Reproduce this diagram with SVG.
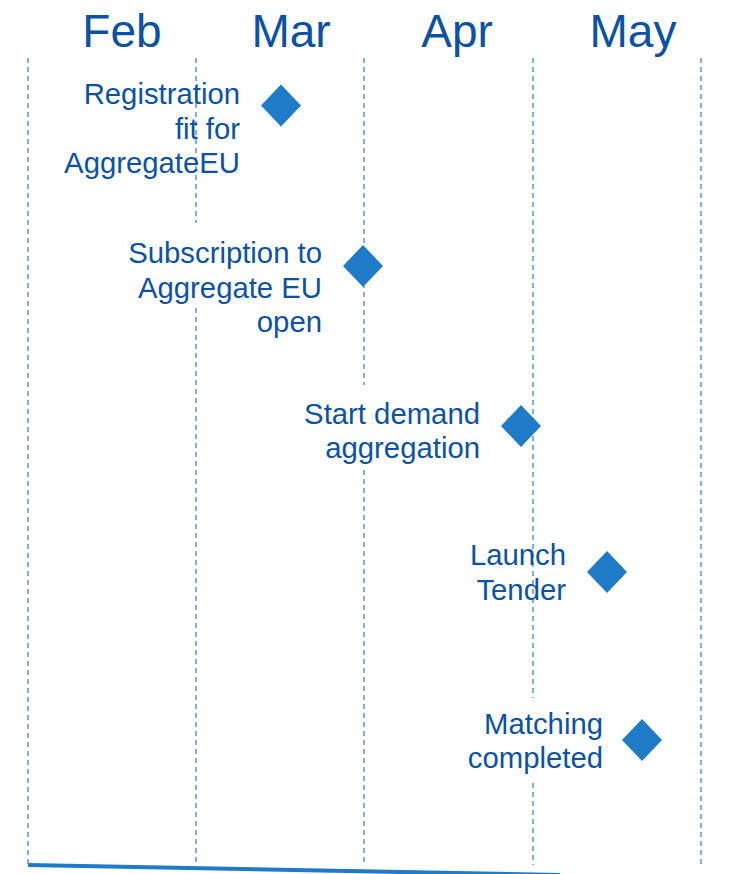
<svg xmlns="http://www.w3.org/2000/svg" width="735" height="874" viewBox="0 0 735 874">
<style>
.grid{stroke:#4a90d6;stroke-width:1.4;stroke-dasharray:5 4;fill:none}
.month{font-family:"Liberation Sans",Arial,sans-serif;font-size:46px;fill:#0b52a5;text-anchor:middle}
.lbl{font-family:"Liberation Sans",Arial,sans-serif;font-size:29.3px;fill:#0b52a5;text-anchor:end}
.dia{fill:#1f7bc8}
</style>
<rect width="735" height="874" fill="#ffffff"/>
<g id="grid" class="grid">
<line x1="28" y1="58" x2="28" y2="865"/>
<line x1="196" y1="58" x2="196" y2="223"/>
<line x1="196" y1="308" x2="196" y2="865"/>
<line x1="364" y1="58" x2="364" y2="385"/>
<line x1="364" y1="470" x2="364" y2="865"/>
<line x1="533" y1="58" x2="533" y2="698"/>
<line x1="533" y1="783" x2="533" y2="865"/>
<line x1="701" y1="58" x2="701" y2="865"/>
</g>
<g id="months">
<text class="month" x="122" y="47">Feb</text>
<text class="month" x="291" y="47">Mar</text>
<text class="month" x="457" y="47">Apr</text>
<text class="month" x="633" y="47">May</text>
</g>
<g id="connectors">
<line x1="28" y1="865" x2="560" y2="875" stroke="#1f7bc8" stroke-width="4"/>
</g>
<g id="m1">
<polygon class="dia" points="281,84.5 301,105.5 281,126.5 261,105.5"/>
<text class="lbl" x="240" y="104">Registration</text>
<text class="lbl" x="240" y="138.5">fit for</text>
<text class="lbl" x="240" y="173">AggregateEU</text>
</g>
<g id="m2">
<polygon class="dia" points="363,245 383,266 363,287 343,266"/>
<text class="lbl" x="322" y="263">Subscription to</text>
<text class="lbl" x="322" y="298">Aggregate EU</text>
<text class="lbl" x="322" y="332">open</text>
</g>
<g id="m3">
<polygon class="dia" points="521,405 541,426 521,447 501,426"/>
<text class="lbl" x="480" y="424">Start demand</text>
<text class="lbl" x="480" y="458">aggregation</text>
</g>
<g id="m4">
<polygon class="dia" points="607,551 627,572 607,593 587,572"/>
<text class="lbl" x="566" y="565">Launch</text>
<text class="lbl" x="566" y="600">Tender</text>
</g>
<g id="m5">
<polygon class="dia" points="642,719 662,740 642,761 622,740"/>
<text class="lbl" x="603" y="734">Matching</text>
<text class="lbl" x="603" y="768">completed</text>
</g>
</svg>
